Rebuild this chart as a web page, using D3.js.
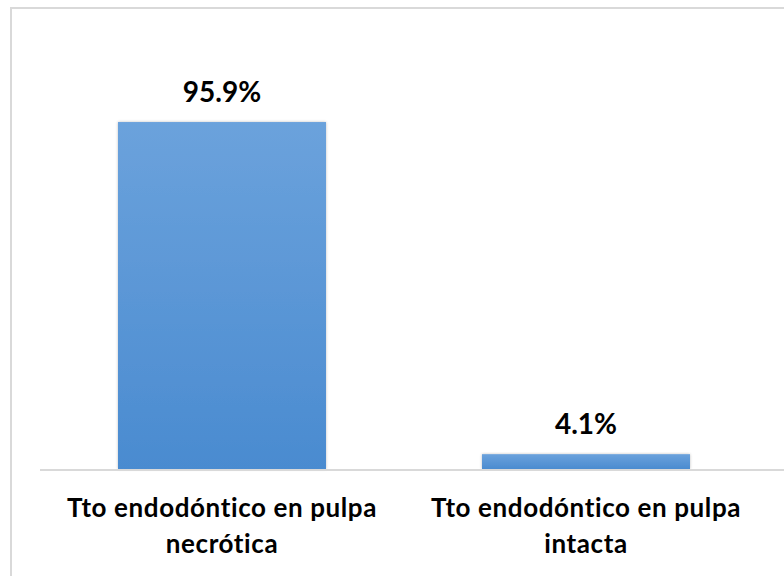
<!DOCTYPE html>
<html><head><meta charset="utf-8">
<script src="https://cdn.jsdelivr.net/npm/d3@7"></script>
<style>body{margin:0;background:#fff}svg{display:block}</style>
</head><body>
<script>
const categories = [["Tto endodóntico en pulpa","necrótica"],["Tto endodóntico en pulpa","intacta"]];
const values = [95.9, 4.1];
const valueLabels = ["95.9%", "4.1%"];

const W = 784, H = 576;
const svg = d3.select("body").append("svg").attr("width", W).attr("height", H);
const defs = svg.append("defs");
const g = defs.append("linearGradient").attr("id","bg").attr("x1",0).attr("y1",0).attr("x2",0).attr("y2",1);
g.append("stop").attr("offset","0%").attr("stop-color","#6ba2dc");
g.append("stop").attr("offset","100%").attr("stop-color","#4a8bd0");
const f = defs.append("filter").attr("id","sh").attr("x","-10%").attr("y","-10%").attr("width","120%").attr("height","120%");
f.append("feGaussianBlur").attr("in","SourceAlpha").attr("stdDeviation",1.5).attr("result","b");
f.append("feComponentTransfer").attr("in","b").attr("result","o2").append("feFuncA").attr("type","linear").attr("slope",0.25);
const m = f.append("feMerge"); m.append("feMergeNode").attr("in","o2"); m.append("feMergeNode").attr("in","SourceGraphic");

// chart border
svg.append("rect").attr("x",11).attr("y",8).attr("width",W).attr("height",H)
  .attr("fill","none").attr("stroke","#d9d9d9").attr("stroke-width",2);

const x = d3.scaleBand().domain(d3.range(values.length)).range([27, 781]).paddingInner(0.4286).paddingOuter(0.25);
const y = d3.scaleLinear().domain([0, 100]).range([469, 107.2]);

svg.selectAll("rect.bar").data(values).join("rect").attr("class","bar")
  .attr("x",(d,i)=>x(i)).attr("width",x.bandwidth())
  .attr("y",d=>y(d)).attr("height",d=>y(0)-y(d))
  .attr("fill","url(#bg)").attr("filter","url(#sh)");

svg.append("line").attr("x1",40).attr("x2",W).attr("y1",470).attr("y2",470)
  .attr("stroke","#d9d9d9").attr("stroke-width",2);

svg.selectAll("text.val").data(values).join("text").attr("class","val")
  .attr("x",(d,i)=>x(i)+x.bandwidth()/2).attr("y",d=>y(d)-20)
  .attr("text-anchor","middle").attr("font-family","Lato, 'Open Sans', sans-serif")
  .attr("font-weight","bold").attr("font-size",28).attr("fill","#000")
  .text((d,i)=>valueLabels[i]);

const cl = svg.selectAll("text.cat").data(categories).join("text").attr("class","cat")
  .attr("text-anchor","middle").attr("font-family","Lato, 'Open Sans', sans-serif")
  .attr("font-weight","bold").attr("font-size",26).attr("letter-spacing",0.6).attr("fill","#000");
cl.each(function(d,i){
  const t = d3.select(this);
  d.forEach((line,j)=>{
    t.append("tspan").attr("x",x(i)+x.bandwidth()/2).attr("y",517+j*36).text(line);
  });
});
</script>
</body></html>
